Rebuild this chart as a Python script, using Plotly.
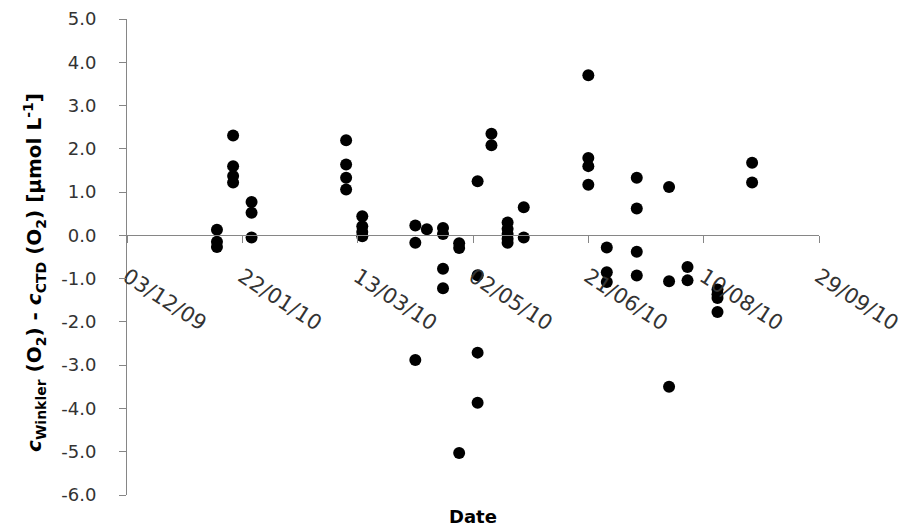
import plotly.graph_objects as go

# Winkler minus CTD oxygen differences per sampling date
sample_dates = (
    ["2010-01-11"] * 3 + ["2010-01-18"] * 4 + ["2010-01-26"] * 3 +
    ["2010-03-08"] * 4 + ["2010-03-15"] * 4 + ["2010-04-07"] * 3 +
    ["2010-04-12"] * 1 + ["2010-04-19"] * 4 + ["2010-04-26"] * 3 +
    ["2010-05-04"] * 4 + ["2010-05-10"] * 2 + ["2010-05-17"] * 5 +
    ["2010-05-24"] * 2 + ["2010-06-21"] * 4 + ["2010-06-29"] * 3 +
    ["2010-07-12"] * 4 + ["2010-07-26"] * 3 + ["2010-08-03"] * 2 +
    ["2010-08-16"] * 4 + ["2010-08-31"] * 2
)
o2_diff = [
    0.13, -0.15, -0.27,
    2.31, 1.60, 1.37, 1.22,
    0.77, 0.52, -0.05,
    2.20, 1.64, 1.33, 1.06,
    0.44, 0.21, 0.08, -0.02,
    0.23, -0.17, -2.88,
    0.14,
    0.17, 0.03, -0.77, -1.22,
    -0.18, -0.29, -5.03,
    1.25, -0.92, -2.71, -3.87,
    2.35, 2.08,
    0.30, 0.15, 0.03, -0.08, -0.17,
    0.65, -0.05,
    3.70, 1.79, 1.60, 1.17,
    -0.28, -0.85, -1.08,
    1.33, 0.62, -0.38, -0.93,
    1.12, -1.06, -3.50,
    -0.73, -1.04,
    -1.25, -1.36, -1.45, -1.77,
    1.68, 1.22,
]

date_ticks = ["2009-12-03", "2010-01-22", "2010-03-13", "2010-05-02",
              "2010-06-21", "2010-08-10", "2010-09-29"]
y_ticks = [5, 4, 3, 2, 1, 0, -1, -2, -3, -4, -5, -6]
y_tick_text = ["5.0", "4.0", "3.0", "2.0", "1.0", "0.0",
               "-1.0", "-2.0", "-3.0", "-4.0", "-5.0", "-6.0"]
y_min, y_max = -6, 5

axis_grey = "#868686"
label_col = "#333333"

fig = go.Figure(
    go.Scatter(
        x=sample_dates, y=o2_diff, mode="markers",
        marker=dict(color="black", size=12, line=dict(width=0)),
        showlegend=False,
    )
)

fig.update_layout(
    width=912, height=528,
    margin=dict(l=127, r=93, t=19, b=33),
    paper_bgcolor="white", plot_bgcolor="white",
    font=dict(family="DejaVu Sans", color=label_col),
    xaxis=dict(
        type="date", range=[date_ticks[0], date_ticks[-1]],
        tickvals=date_ticks, tickformat="%d/%m/%y", tickangle=33,
        tickfont=dict(size=21, color=label_col),
        ticks="outside", ticklen=7, tickcolor=axis_grey,
        showline=True, linecolor=axis_grey, linewidth=1,
        showgrid=False, zeroline=False, automargin=False,
        anchor="free", position=(0 - y_min) / (y_max - y_min),
        ticklabelstandoff=13,
    ),
    yaxis=dict(
        range=[y_min, y_max], tickvals=y_ticks, ticktext=y_tick_text,
        tickfont=dict(size=18, color=label_col),
        ticks="outside", ticklen=7, tickcolor=axis_grey,
        showline=True, linecolor=axis_grey, linewidth=1,
        showgrid=False, zeroline=False, automargin=False,
        ticklabelstandoff=19,
    ),
    annotations=[
        dict(
            text="<b><i>c</i><sub>Winkler</sub> (O<sub>2</sub>) - <i>c</i><sub>CTD</sub> "
                 "(O<sub>2</sub>) [µmol L<sup>-1</sup>]</b>",
            xref="paper", yref="paper", x=-0.133, y=0.4685,
            textangle=-90, showarrow=False,
            font=dict(size=20, color="black"),
            xanchor="center", yanchor="middle",
        ),
        dict(
            text="<b>Date</b>", xref="paper", yref="paper",
            x=0.5, y=-0.046, showarrow=False,
            font=dict(size=18, color="black"),
            xanchor="center", yanchor="middle",
        ),
    ],
)

fig.write_html("out.html")
